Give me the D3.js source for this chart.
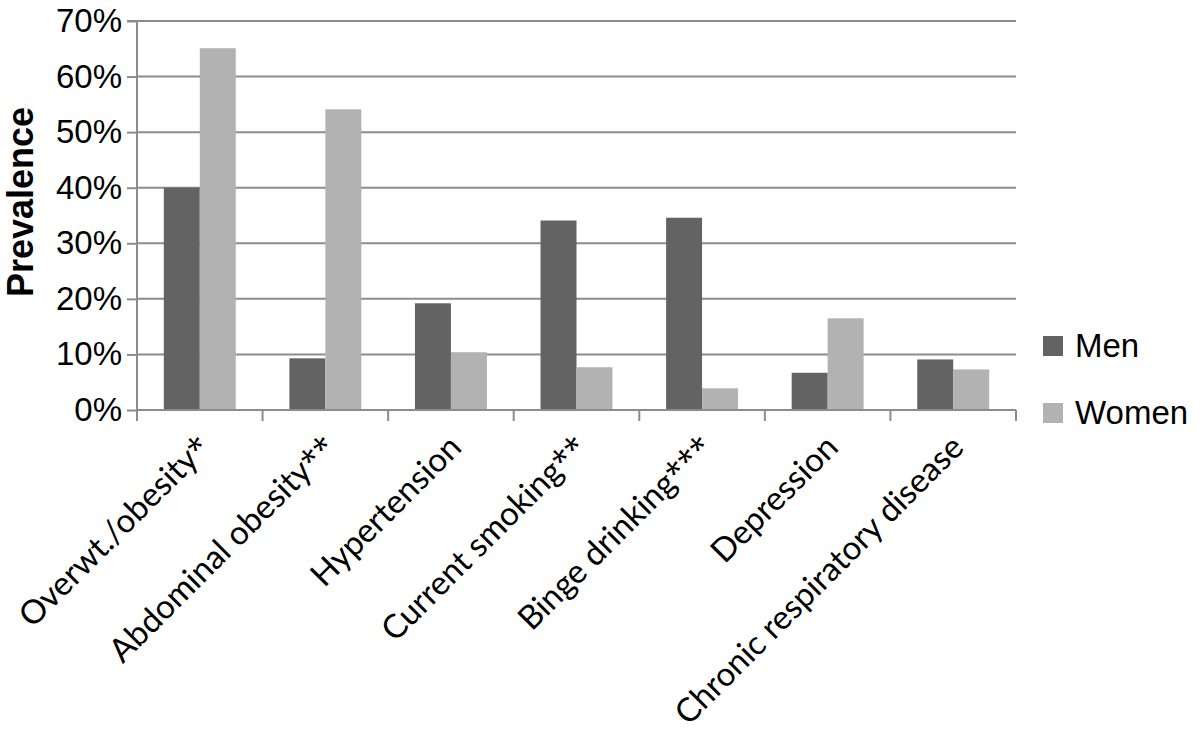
<!DOCTYPE html>
<html>
<head>
<meta charset="utf-8">
<script src="https://cdn.jsdelivr.net/npm/d3@7"></script>
<style>
  body { margin: 0; background: #fff; }
  svg { display: block; }
</style>
</head>
<body>
<svg id="chart" width="1200" height="735"></svg>
<script>
const categories = [
  "Overwt./obesity*",
  "Abdominal obesity**",
  "Hypertension",
  "Current smoking**",
  "Binge drinking***",
  "Depression",
  "Chronic respiratory disease"
];
const seriesNames = ["Men", "Women"];
const menValues = [40.0, 9.3, 19.2, 34.1, 34.6, 6.7, 9.1];
const womenValues = [65.1, 54.1, 10.4, 7.7, 3.9, 16.5, 7.3];
const yTicks = [0, 10, 20, 30, 40, 50, 60, 70];
const seriesColors = ["#636363", "#b2b2b2"];

const svg = d3.select("#chart");
const margin = { top: 21, left: 137, right: 184, bottom: 325 };
const plotRight = 1200 - margin.right;
const plotBottom = 735 - margin.bottom;
const gridColor = "#8c8c8c";

// Scales
const x0 = d3.scaleBand().domain(categories).range([margin.left, plotRight]).padding(0);
const groupWidth = x0.bandwidth() * 0.573;
const x1 = d3
  .scaleBand()
  .domain(seriesNames)
  .range([(x0.bandwidth() - groupWidth) / 2, (x0.bandwidth() + groupWidth) / 2])
  .padding(0);
const y = d3.scaleLinear().domain([0, 70]).range([plotBottom, margin.top]);
const color = d3.scaleOrdinal().domain(seriesNames).range(seriesColors);

// Horizontal gridlines
svg
  .append("g")
  .selectAll("line")
  .data(yTicks.filter((t) => t > 0))
  .join("line")
  .attr("x1", margin.left)
  .attr("x2", plotRight)
  .attr("y1", (d) => y(d))
  .attr("y2", (d) => y(d))
  .attr("stroke", gridColor)
  .attr("stroke-width", 2);

// Bars
const rows = categories.map((c, i) => ({ cat: c, Men: menValues[i], Women: womenValues[i] }));
svg
  .append("g")
  .selectAll("g")
  .data(rows)
  .join("g")
  .attr("transform", (d) => `translate(${x0(d.cat)},0)`)
  .selectAll("rect")
  .data((d) => seriesNames.map((s) => ({ key: s, value: d[s] })))
  .join("rect")
  .attr("x", (d) => x1(d.key))
  .attr("width", x1.bandwidth())
  .attr("y", (d) => y(d.value))
  .attr("height", (d) => y(0) - y(d.value))
  .attr("fill", (d) => color(d.key));

// Y axis
const yAxis = d3
  .axisLeft(y)
  .tickValues(yTicks)
  .tickFormat((d) => d + "%")
  .tickSize(10)
  .tickPadding(5);
const yg = svg.append("g").attr("transform", `translate(${margin.left},0)`).call(yAxis);
yg.select(".domain").attr("stroke", gridColor).attr("stroke-width", 2).attr("d", `M-10,${margin.top}H0V${plotBottom}`);
yg.selectAll(".tick line").attr("stroke", gridColor).attr("stroke-width", 2);
yg.selectAll(".tick text")
  .attr("fill", "#000")
  .style("font-family", "'Liberation Sans', Arial, sans-serif")
  .style("font-size", "33px");

// X axis (category boundaries as ticks)
const xg = svg.append("g");
xg.append("line")
  .attr("x1", margin.left)
  .attr("x2", plotRight)
  .attr("y1", plotBottom)
  .attr("y2", plotBottom)
  .attr("stroke", gridColor)
  .attr("stroke-width", 2);
const bounds = categories.map((c) => x0(c)).concat([plotRight]);
xg.selectAll(".xtick")
  .data(bounds)
  .join("line")
  .attr("class", "xtick")
  .attr("x1", (d) => d)
  .attr("x2", (d) => d)
  .attr("y1", plotBottom)
  .attr("y2", plotBottom + 11)
  .attr("stroke", gridColor)
  .attr("stroke-width", 2);

// Rotated category labels (asterisks in a font whose * sits at cap height)
const labels = xg
  .selectAll(".xlabel")
  .data(categories)
  .join("text")
  .attr("class", "xlabel")
  .attr("transform", (d) => `translate(${x0(d) + x0.bandwidth() / 2 - 4},${plotBottom + 23}) rotate(-45)`)
  .attr("text-anchor", "end")
  .attr("dy", "0.7em")
  .style("font-family", "Lato, 'Open Sans', sans-serif")
  .style("font-size", "33px")
  .attr("fill", "#000");
labels.each(function (d) {
  const m = d.match(/^(.*?)(\**)$/);
  const t = d3.select(this);
  t.append("tspan").text(m[1]);
  if (m[2]) {
    t.append("tspan").style("font-family", "'Open Sans', sans-serif").style("font-size", "31px").text(m[2]);
  }
});

// Y axis title
svg
  .append("text")
  .attr("transform", `translate(33,202) rotate(-90)`)
  .attr("text-anchor", "middle")
  .style("font-family", "'Liberation Sans', Arial, sans-serif")
  .style("font-size", "36px")
  .style("font-weight", "bold")
  .text("Prevalence");

// Legend
const legend = svg
  .append("g")
  .selectAll("g")
  .data(seriesNames)
  .join("g")
  .attr("transform", (d, i) => `translate(1043,${346 + i * 67})`);
legend
  .append("rect")
  .attr("x", 0)
  .attr("y", -10)
  .attr("width", 20)
  .attr("height", 20)
  .attr("fill", (d) => color(d));
legend
  .append("text")
  .attr("x", 32)
  .attr("y", 11)
  .style("font-family", "'Liberation Sans', Arial, sans-serif")
  .style("font-size", "33px")
  .text((d) => d);
</script>
</body>
</html>
